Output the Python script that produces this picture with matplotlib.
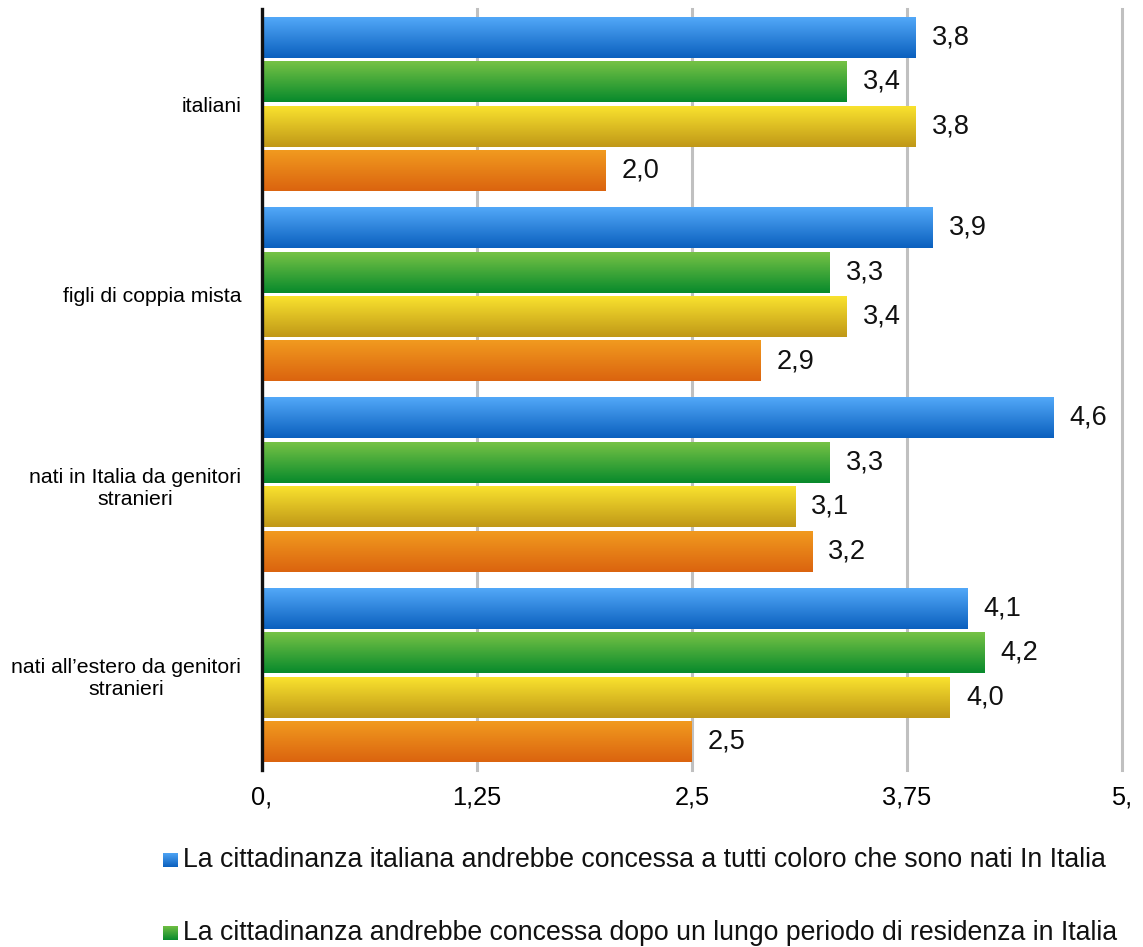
import numpy as np
import matplotlib.pyplot as plt
from matplotlib.colors import to_rgb

plt.rcParams['font.family'] = ['Liberation Sans', 'DejaVu Sans']

# DATA
categories = ['italiani', 'figli di coppia mista',
              'nati in Italia da genitori\nstranieri',
              'nati all\u2019estero da genitori\nstranieri']
tutti_nati = [3.8, 3.9, 4.6, 4.1]
lungo_periodo = [3.4, 3.3, 3.3, 4.2]
serie_gialla = [3.8, 3.4, 3.1, 4.0]
serie_arancio = [2.0, 2.9, 3.2, 2.5]
series = [tutti_nati, lungo_periodo, serie_gialla, serie_arancio]
legend_labels = ['La cittadinanza italiana andrebbe concessa a tutti coloro che sono nati In Italia',
                 'La cittadinanza andrebbe concessa dopo un lungo periodo di residenza in Italia']
x_ticks = [0, 1.25, 2.5, 3.75, 5]
x_ticklabels = ['0,', '1,25', '2,5', '3,75', '5,']

# (top colour, bottom colour) of each bar gradient
gradients = [('#52A8F8', '#0B60BE'),
             ('#76C245', '#088A2C'),
             ('#F9E22E', '#C09818'),
             ('#F19A1F', '#DB640F')]


def gradient_img(top, bottom, n=64):
    t = np.linspace(0, 1, n)[:, None, None]
    c0 = np.array(to_rgb(top))[None, None, :]
    c1 = np.array(to_rgb(bottom))[None, None, :]
    return c0 * (1 - t) + c1 * t


fig = plt.figure(figsize=(11.43, 9.47), dpi=100)
ax = fig.add_axes([262 / 1143, 177 / 947, 860 / 1143, 761 / 947])

pitch = 0.2335
height = 0.215
y = np.arange(len(categories))
for i, vals in enumerate(series):
    pos = y + (i - 1.5) * pitch
    bars = ax.barh(pos, vals, height=height, color='none', zorder=2)
    top, bottom = gradients[i]
    img = gradient_img(top, bottom)
    for p, v in zip(bars.patches, vals):
        x0, y0, w, h = p.get_x(), p.get_y(), p.get_width(), p.get_height()
        ax.imshow(img, extent=[x0, x0 + w, y0 + h, y0], origin='upper',
                  aspect='auto', zorder=2, interpolation='bilinear')
        ax.annotate(f'{v:.1f}'.replace('.', ','), (x0 + w, y0 + h / 2),
                    xytext=(11.5, 0), textcoords='offset points',
                    ha='left', va='center', fontsize=19.5, color='#111111')

ax.set_xlim(0, 5)
ax.set_ylim(3.5, -0.5)

ax.set_xticks(x_ticks)
ax.set_xticklabels(x_ticklabels, fontsize=18.3)
ax.set_yticks(y)
ax.set_yticklabels(categories, fontsize=15.3, multialignment='center')
ax.tick_params(axis='x', length=0, pad=11)
ax.tick_params(axis='y', length=0, pad=15)

ax.grid(axis='x', color='#C0C0C0', linewidth=2.2, zorder=0)
for gl in ax.get_xgridlines():
    gl.set_clip_on(False)
ax.set_axisbelow(True)
for s in ['top', 'right', 'bottom']:
    ax.spines[s].set_visible(False)
ax.spines['left'].set_color('#111111')
ax.spines['left'].set_linewidth(2.4)
ax.spines['left'].set_zorder(3)

# legend entries: small gradient square + text
legend_rows = [860, 933]
for i, (lab, yr) in enumerate(zip(legend_labels, legend_rows)):
    sq = fig.add_axes([163 / 1143, (947 - yr - 7.5) / 947, 15 / 1143, 15 / 947])
    sq.imshow(gradient_img(*gradients[i]), aspect='auto', interpolation='bilinear')
    sq.axis('off')
    fig.text(183 / 1143, (947 - yr) / 947, lab, fontsize=19.2,
             ha='left', va='center', color='#111111')

fig.savefig('out.png', dpi=100)
